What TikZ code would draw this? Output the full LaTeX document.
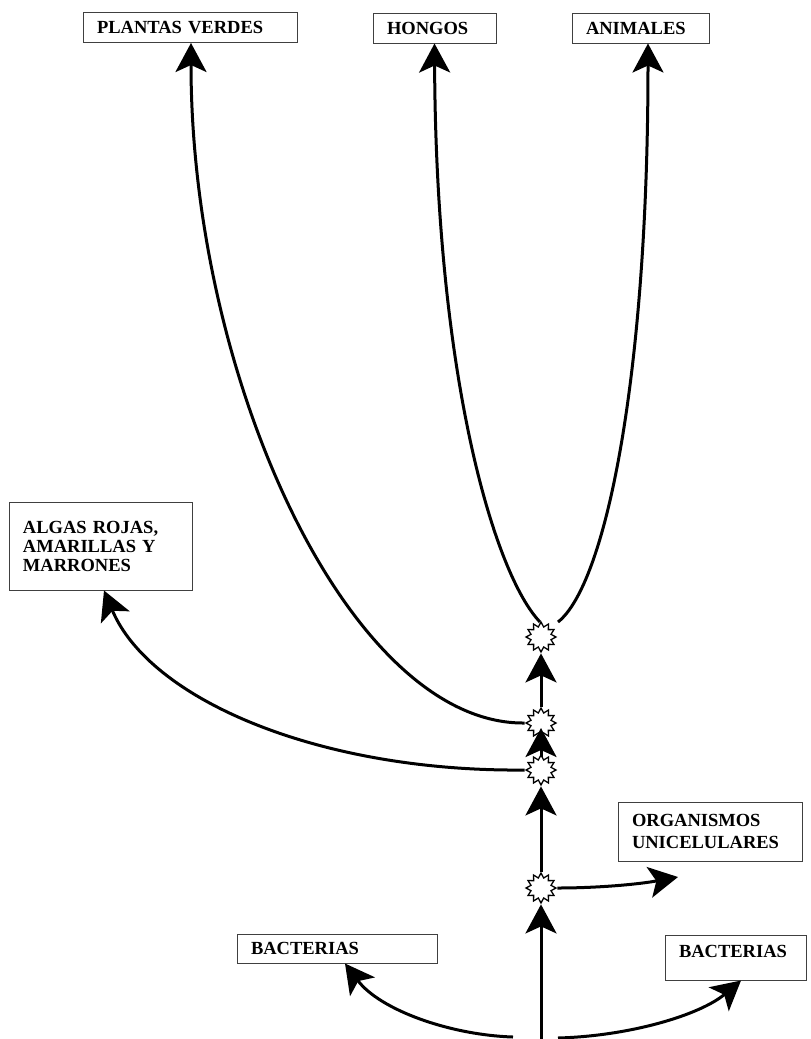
\documentclass[tikz,border=0pt]{standalone}
\usepackage{fontspec}
\setmainfont{Liberation Serif}
\usetikzlibrary{arrows.meta,shapes.geometric}
\begin{document}
\begin{tikzpicture}[x=1pt,y=-1pt,
  box/.style={draw=black!75, line width=1pt, fill=white, inner xsep=14pt, inner ysep=2pt, align=left, font=\bfseries\fontsize{18.5}{19}\selectfont},
  burst/.style={star, star points=12, star point ratio=1.45, minimum size=30pt, inner sep=0pt, draw, fill=white, line width=1.3pt},
  arr/.style={line width=3pt, -{Stealth[length=29pt,width=31pt,inset=7pt]}},
  ln/.style={line width=3pt}]
\useasboundingbox (0,0) rectangle (811,1039);
% boxes
\node[box, text width=186pt, minimum height=30pt] (pv) at (190,27.5) {PLANTAS VERDES};
\node[box, text width=95pt, minimum height=30pt] (ho) at (434.5,28) {HONGOS};
\node[box, text width=109pt, minimum height=30pt] (an) at (640.5,28) {ANIMALES};
\node[box, text width=155pt, minimum height=88pt] (al) at (100.5,546) {ALGAS ROJAS,\\AMARILLAS Y\\MARRONES};
\node[box, text width=156pt, minimum height=59pt, font=\bfseries\fontsize{18.5}{22}\selectfont] (or) at (710,831.5) {ORGANISMOS\\UNICELULARES};
\node[box, text width=172pt, minimum height=29pt] (bl) at (337,948.5) {BACTERIAS};
\node[box, text width=113pt, minimum height=45pt, text depth=12pt] (br) at (735.5,957.5) {BACTERIAS};
% junctions
\node[burst] (s1) at (541,888) {};
\node[burst] (s2) at (541,770) {};
\node[burst] (s3) at (541,723) {};
\node[burst] (s4) at (541,637) {};
\coordinate (base) at (541,1039);
\coordinate (bl0) at (513,1037);
\coordinate (br0) at (558,1038);
\coordinate (ot) at (678,877);
% trunk
\draw[arr] (base) -- (s1);
\draw[arr] (s1) -- (s2);
\draw[arr] ([yshift=13pt]s2.center) -- ([yshift=-5pt]s3.center);
\draw[arr] (s3) -- (s4);
% branches
\draw[arr] (s1.east) .. controls (600,888) and (640,884) .. (ot);
\draw[arr] (s2.west) .. controls (320,772) and (150,700) .. ([xshift=3.5pt]al.south);
\draw[arr] (s3.west) .. controls (350,725) and (191,380) .. ([xshift=1pt]pv.south);
\draw[arr] ([shift={(-1,-15)}]s4.center) .. controls (495,575) and (436,380) .. (ho.south);
\draw[arr] ([shift={(17,-15)}]s4.center) .. controls (605,585) and (648,380) .. ([xshift=7.5pt]an.south);
\draw[arr] (bl0) .. controls (450,1035) and (380,1010) .. ([xshift=8pt]bl.south);
\draw[arr] (br0) .. controls (630,1036) and (700,1015) .. ([xshift=5.5pt]br.south);
\end{tikzpicture}
\end{document}
